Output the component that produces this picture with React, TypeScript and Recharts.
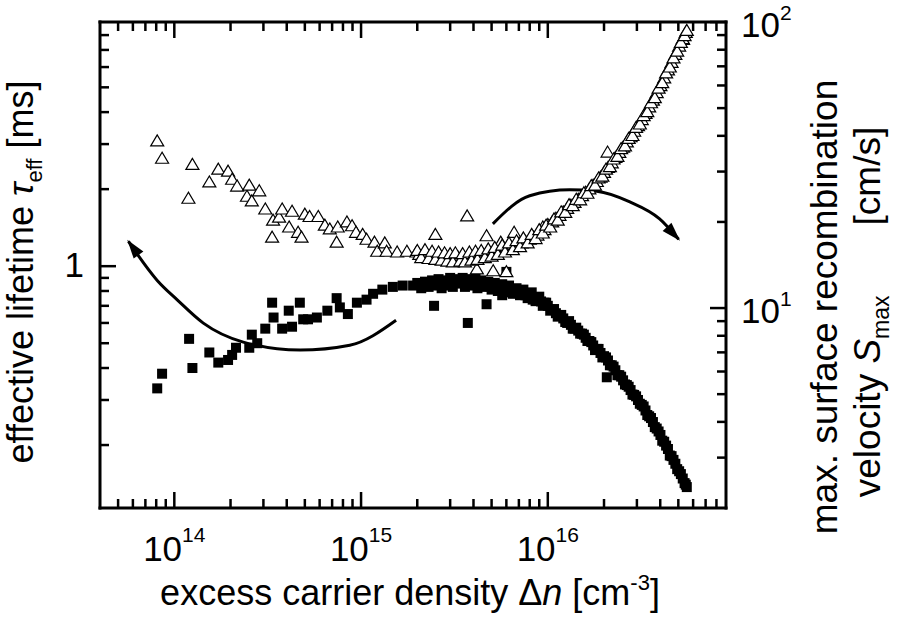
import React from 'react';
import { ComposedChart, Scatter, Line, XAxis, YAxis, Customized } from 'recharts';

const FONT = '"Liberation Sans", Arial, Helvetica, sans-serif';

// axis ticks (log decades with minor ticks)
const X_TICKS = [
  5e13, 6e13, 7e13, 8e13, 9e13,
  1e14, 2e14, 3e14, 4e14, 5e14, 6e14, 7e14, 8e14, 9e14,
  1e15, 2e15, 3e15, 4e15, 5e15, 6e15, 7e15, 8e15, 9e15,
  1e16, 2e16, 3e16, 4e16, 5e16, 6e16, 7e16, 8e16,
];
const X_EXP: Record<string, string> = { [String(1e14)]: '14', [String(1e15)]: '15', [String(1e16)]: '16' };
const TAU_TICKS = [0.2, 0.3, 0.4, 0.5, 0.6, 0.7, 0.8, 0.9, 1, 2, 3, 4, 5, 6, 7, 8];
const S_TICKS = [3, 4, 5, 6, 7, 8, 9, 10, 20, 30, 40, 50, 60, 70, 80, 90, 100];
const S_EXP: Record<string, string> = { '10': '1', '100': '2' };

// effective lifetime [ms] vs excess carrier density [cm^-3] (filled squares)
const tauSparse: [number, number][] = [
  [8.1e13, 0.333], [8.6e13, 0.38], [1.2e14, 0.52], [1.25e14, 0.40], [1.54e14, 0.46],
  [1.72e14, 0.42], [1.94e14, 0.43], [2.04e14, 0.45], [2.14e14, 0.48], [2.52e14, 0.48],
  [2.6e14, 0.54], [2.78e14, 0.50], [3.07e14, 0.57], [3.34e14, 0.72], [3.4e14, 0.63],
  [3.78e14, 0.57], [4.1e14, 0.67], [4.27e14, 0.58], [4.7e14, 0.72], [4.9e14, 0.62],
  [5.2e14, 0.62], [5.8e14, 0.63], [6.6e14, 0.67], [7.4e14, 0.75], [7.7e14, 0.69],
  [8.5e14, 0.65], [9.5e14, 0.72], [1.07e15, 0.74], [1.16e15, 0.78], [1.3e15, 0.81],
  [1.48e15, 0.83], [1.67e15, 0.84], [1.9e15, 0.84],
  [2.46e15, 0.70], [3.73e15, 0.60], [4.7e15, 0.71], [6.0e15, 0.95], [5.7e15, 0.77],
  [8.3e15, 0.74], [2.07e16, 0.368],
];
const tauBand: [number, number][] = [
  [2.0e15, 0.86], [2.1e15, 0.82], [2.2e15, 0.87], [2.3e15, 0.83], [2.4e15, 0.88],
  [2.5e15, 0.84], [2.6e15, 0.89], [2.7e15, 0.82], [2.8e15, 0.88], [2.9e15, 0.84],
  [3.0e15, 0.90], [3.1e15, 0.83], [3.2e15, 0.89], [3.4e15, 0.86], [3.5e15, 0.90],
  [3.6e15, 0.83], [3.8e15, 0.89], [3.9e15, 0.84], [4.1e15, 0.90], [4.2e15, 0.82],
  [4.4e15, 0.88], [4.6e15, 0.83], [4.8e15, 0.87], [5.0e15, 0.81], [5.2e15, 0.86],
  [5.4e15, 0.80], [5.7e15, 0.85], [5.9e15, 0.79], [6.2e15, 0.84], [6.5e15, 0.78],
  [6.8e15, 0.82], [7.1e15, 0.77], [7.4e15, 0.81], [7.8e15, 0.75], [8.2e15, 0.79],
  [8.6e15, 0.73], [9.0e15, 0.76], [9.4e15, 0.70], [9.8e15, 0.72], [1.03e16, 0.67],
  [1.08e16, 0.68], [1.13e16, 0.635], [1.18e16, 0.645], [1.24e16, 0.605], [1.30e16, 0.61],
  [1.36e16, 0.57], [1.42e16, 0.575], [1.49e16, 0.545], [1.56e16, 0.54], [1.63e16, 0.51],
  [1.71e16, 0.505], [1.79e16, 0.47], [1.87e16, 0.475], [1.96e16, 0.44], [2.05e16, 0.44],
  [2.15e16, 0.41], [2.25e16, 0.405], [2.36e16, 0.375], [2.47e16, 0.37], [2.59e16, 0.345],
  [2.71e16, 0.338], [2.84e16, 0.315], [2.97e16, 0.31], [3.11e16, 0.29], [3.26e16, 0.283],
  [3.41e16, 0.262], [3.57e16, 0.255], [3.74e16, 0.235], [3.92e16, 0.226], [4.10e16, 0.208],
  [4.30e16, 0.199], [4.50e16, 0.182], [4.71e16, 0.175], [4.93e16, 0.161], [5.16e16, 0.154],
  [5.40e16, 0.142], [5.55e16, 0.137],
];
const tauBandFill: [number, number][] = [
  [2.05e15, 0.845], [2.15e15, 0.85], [2.25e15, 0.84], [2.35e15, 0.86], [2.45e15, 0.85],
  [2.55e15, 0.86], [2.65e15, 0.85], [2.75e15, 0.86], [2.85e15, 0.855], [2.95e15, 0.865],
  [3.05e15, 0.86], [3.15e15, 0.87], [3.3e15, 0.855], [3.45e15, 0.87], [3.55e15, 0.86],
  [3.7e15, 0.87], [3.85e15, 0.855], [4.0e15, 0.865], [4.15e15, 0.85], [4.3e15, 0.86],
  [4.5e15, 0.845], [4.7e15, 0.85], [4.9e15, 0.835], [5.1e15, 0.84], [5.3e15, 0.825],
  [5.55e15, 0.83], [5.8e15, 0.815], [6.05e15, 0.815], [6.35e15, 0.80], [6.65e15, 0.80],
  [6.95e15, 0.785], [7.25e15, 0.785], [7.6e15, 0.77], [8.0e15, 0.765], [8.4e15, 0.75],
  [8.8e15, 0.745], [9.2e15, 0.728], [9.6e15, 0.72],
  [1.00e16, 0.70], [1.055e16, 0.675], [1.105e16, 0.655], [1.155e16, 0.64], [1.21e16, 0.625],
  [1.27e16, 0.60], [1.33e16, 0.59], [1.39e16, 0.57], [1.455e16, 0.56], [1.525e16, 0.545],
  [1.595e16, 0.525], [1.67e16, 0.51], [1.75e16, 0.49], [1.83e16, 0.475], [1.915e16, 0.458],
  [2.0e16, 0.445], [2.1e16, 0.428], [2.2e16, 0.41], [2.3e16, 0.392], [2.415e16, 0.375],
  [2.53e16, 0.358], [2.65e16, 0.343], [2.775e16, 0.328], [2.9e16, 0.314], [3.04e16, 0.30],
  [3.185e16, 0.287], [3.335e16, 0.273], [3.49e16, 0.259], [3.655e16, 0.246], [3.83e16, 0.232],
  [4.01e16, 0.219], [4.2e16, 0.206], [4.4e16, 0.193], [4.6e16, 0.181], [4.82e16, 0.169],
  [5.05e16, 0.158], [5.28e16, 0.148], [5.48e16, 0.14],
];

// max. surface recombination velocity [cm/s] (open triangles)
const sSparse: [number, number][] = [
  [8.1e13, 38.4], [8.6e13, 33.4], [1.19e14, 24.2], [1.25e14, 31.8], [1.54e14, 27.6],
  [1.72e14, 30.6], [1.94e14, 30.1], [2.04e14, 28.2], [2.17e14, 26.7], [2.45e14, 24.6],
  [2.52e14, 26.9], [2.6e14, 23.7], [2.85e14, 25.7], [3.07e14, 22.2], [3.34e14, 17.7],
  [3.38e14, 20.3], [3.64e14, 20.8], [3.78e14, 22.2], [4.12e14, 19.2], [4.27e14, 21.8],
  [4.6e14, 18.4], [4.8e14, 17.7], [5.0e14, 21.3], [5.3e14, 20.9], [5.9e14, 20.9],
  [6.4e14, 19.5], [6.8e14, 18.9], [7.4e14, 17.0], [7.5e14, 19.2], [8.4e14, 20.0],
  [8.95e14, 19.4], [9.4e14, 18.4], [1.02e15, 18.1], [1.07e15, 17.4], [1.18e15, 17.0],
  [1.22e15, 15.8], [1.34e15, 16.9], [1.37e15, 15.8], [1.56e15, 15.7], [1.76e15, 15.8],
  [1.98e15, 15.7],
  [2.5e15, 18.1], [3.7e15, 21.0], [4.7e15, 17.9], [5.6e15, 17.0], [6.6e15, 18.4],
  [4.17e15, 13.7], [5.1e15, 13.5], [6.0e15, 13.4], [9.4e15, 19.2], [2.09e16, 35.1],
  [5.3e16, 87],
];
const sBand: [number, number][] = [
  [2.0e15, 15.9], [2.1e15, 15.0], [2.2e15, 16.0], [2.3e15, 14.9], [2.4e15, 15.8],
  [2.5e15, 14.8], [2.6e15, 15.7], [2.7e15, 14.7], [2.8e15, 15.6], [2.9e15, 14.6],
  [3.0e15, 15.5], [3.1e15, 14.5], [3.2e15, 15.6], [3.4e15, 14.6], [3.5e15, 15.5],
  [3.6e15, 14.5], [3.8e15, 15.7], [3.9e15, 14.7], [4.1e15, 15.8], [4.2e15, 14.8],
  [4.4e15, 15.9], [4.6e15, 15.0], [4.8e15, 16.1], [5.0e15, 15.2], [5.2e15, 16.3],
  [5.4e15, 15.4], [5.7e15, 16.6], [5.9e15, 15.7], [6.2e15, 16.9], [6.5e15, 16.0],
  [6.8e15, 17.2], [7.1e15, 16.4], [7.4e15, 17.6], [7.8e15, 16.9], [8.2e15, 18.1],
  [8.6e15, 17.5], [9.0e15, 18.8], [9.4e15, 18.3], [9.8e15, 19.5], [1.03e16, 19.2],
  [1.08e16, 20.5], [1.13e16, 20.3], [1.18e16, 21.7], [1.24e16, 21.6], [1.30e16, 23.0],
  [1.36e16, 22.8], [1.42e16, 24.0], [1.49e16, 23.9], [1.56e16, 25.3], [1.63e16, 25.2],
  [1.71e16, 26.8], [1.79e16, 26.9], [1.87e16, 28.5], [1.96e16, 28.9], [2.05e16, 30.6],
  [2.15e16, 31.2], [2.25e16, 33.2], [2.36e16, 33.9], [2.47e16, 36.1], [2.59e16, 36.9],
  [2.71e16, 39.2], [2.84e16, 40.1], [2.97e16, 42.8], [3.11e16, 44.0], [3.26e16, 47.1],
  [3.41e16, 48.6], [3.57e16, 52.2], [3.74e16, 54.4], [3.92e16, 58.7], [4.10e16, 61.4],
  [4.30e16, 66.4], [4.50e16, 69.6], [4.71e16, 74.9], [4.93e16, 79.1], [5.16e16, 84.9],
  [5.40e16, 89.6], [5.55e16, 93.5],
];
const sBandFill: [number, number][] = [
  [2.05e15, 15.4], [2.15e15, 15.3], [2.25e15, 15.4], [2.35e15, 15.2], [2.45e15, 15.3],
  [2.55e15, 15.1], [2.65e15, 15.3], [2.75e15, 15.0], [2.85e15, 15.2], [2.95e15, 15.0],
  [3.05e15, 15.1], [3.15e15, 14.9], [3.3e15, 15.1], [3.45e15, 14.9], [3.55e15, 15.1],
  [3.7e15, 15.0], [3.85e15, 15.2], [4.0e15, 15.1], [4.15e15, 15.3], [4.3e15, 15.2],
  [4.5e15, 15.4], [4.7e15, 15.4], [4.9e15, 15.6], [5.1e15, 15.6], [5.3e15, 15.8],
  [5.55e15, 15.9], [5.8e15, 16.1], [6.05e15, 16.2], [6.35e15, 16.4], [6.65e15, 16.5],
  [6.95e15, 16.7], [7.25e15, 16.9], [7.6e15, 17.1], [8.0e15, 17.4], [8.4e15, 17.7],
  [8.8e15, 18.0], [9.2e15, 18.4], [9.6e15, 18.8],
  [1.00e16, 19.6], [1.055e16, 20.0], [1.105e16, 20.6], [1.155e16, 21.1], [1.21e16, 21.7],
  [1.27e16, 22.3], [1.33e16, 22.9], [1.39e16, 23.4], [1.455e16, 24.0], [1.525e16, 24.7],
  [1.595e16, 25.4], [1.67e16, 26.1], [1.75e16, 26.9], [1.83e16, 27.7], [1.915e16, 28.7],
  [2.0e16, 29.8], [2.1e16, 31.0], [2.2e16, 32.2], [2.3e16, 33.6], [2.415e16, 35.0],
  [2.53e16, 36.5], [2.65e16, 38.1], [2.775e16, 39.7], [2.9e16, 41.5], [3.04e16, 43.4],
  [3.185e16, 45.6], [3.335e16, 47.9], [3.49e16, 50.5], [3.655e16, 53.3], [3.83e16, 56.6],
  [4.01e16, 59.9], [4.2e16, 63.8], [4.4e16, 68.0], [4.6e16, 72.2], [4.82e16, 77.0],
  [5.05e16, 82.4], [5.28e16, 87.5], [5.48e16, 92.0],
];

// curved arrows (annotation paths in data space)
const arrowLeft: [number, number][] = [
  [5.68e13, 1.25], [8.1e13, 0.88], [1.04e14, 0.737], [1.43e14, 0.599], [2.34e14, 0.505],
  [4.72e14, 0.47], [8.7e14, 0.491], [1.54e15, 0.615],
];
const arrowRight: [number, number][] = [
  [5.08e15, 19.7], [8.0e15, 24.7], [1.31e16, 25.9], [1.83e16, 25.6], [2.75e16, 23.5],
  [3.97e16, 20.5], [5.02e16, 17.4],
];

const tauData = [...tauSparse, ...tauBand, ...tauBandFill].map(([n, tau]) => ({ n, tau }));
const sData = [...sSparse, ...sBandFill, ...sBand].map(([n, s]) => ({ n, s }));
const arrowLeftData = arrowLeft.map(([n, tau]) => ({ n, tau }));
const arrowRightData = arrowRight.map(([n, s]) => ({ n, s }));

const BottomTick = (props: any) => {
  const { x, y, payload } = props;
  const exp = X_EXP[String(payload.value)];
  const len = exp ? 16 : 9;
  return (
    <g>
      <line x1={x} y1={y} x2={x} y2={y - len} stroke="#000" strokeWidth={2.5} />
      {exp && (
        <text x={x} y={y + 53} textAnchor="middle" fontSize={35} fontFamily={FONT} fill="#000">
          10<tspan dy={-19} fontSize={21}>{exp}</tspan>
        </text>
      )}
    </g>
  );
};

const TopTick = (props: any) => {
  const { x, y, payload } = props;
  const len = X_EXP[String(payload.value)] ? 16 : 9;
  return <line x1={x} y1={y} x2={x} y2={y + len} stroke="#000" strokeWidth={2.5} />;
};

const LeftTick = (props: any) => {
  const { x, y, payload } = props;
  const major = payload.value === 1;
  const len = major ? 16 : 9;
  return (
    <g>
      <line x1={x} y1={y} x2={x + len} y2={y} stroke="#000" strokeWidth={2.5} />
      {major && (
        <text x={x - 16} y={y + 11} textAnchor="end" fontSize={35} fontFamily={FONT} fill="#000">
          1
        </text>
      )}
    </g>
  );
};

const RightTick = (props: any) => {
  const { x, y, payload } = props;
  const exp = S_EXP[String(payload.value)];
  const len = exp ? 16 : 9;
  return (
    <g>
      <line x1={x} y1={y} x2={x - len} y2={y} stroke="#000" strokeWidth={2.5} />
      {exp && (
        <text x={x + 15} y={y + 15} textAnchor="start" fontSize={35} fontFamily={FONT} fill="#000">
          10<tspan dy={-17} fontSize={21}>{exp}</tspan>
        </text>
      )}
    </g>
  );
};

const Square = (props: any) => {
  const { cx, cy } = props;
  if (cx == null || cy == null) return null;
  return <rect x={cx - 5} y={cy - 5} width={10} height={10} fill="#000" />;
};

const Triangle = (props: any) => {
  const { cx, cy } = props;
  if (cx == null || cy == null) return null;
  return (
    <polygon
      points={`${cx},${cy - 6} ${cx - 6.5},${cy + 5} ${cx + 6.5},${cy + 5}`}
      fill="#fff"
      stroke="#000"
      strokeWidth={1.2}
    />
  );
};

const arrowHead = (atStart: boolean) => (props: any) => {
  const { cx, cy, index, points } = props;
  const last = points ? points.length - 1 : -1;
  const head = atStart ? 0 : last;
  if (index !== head || cx == null || !points) return <g key={`ah-${index}`} />;
  const prev = points[atStart ? 1 : last - 1];
  const ang = Math.atan2(cy - prev.y, cx - prev.x);
  const L = 17;
  const W = 6;
  const bx = cx - L * Math.cos(ang);
  const by = cy - L * Math.sin(ang);
  const px = -Math.sin(ang) * W;
  const py = Math.cos(ang) * W;
  return (
    <polygon
      key={`ah-${index}`}
      points={`${cx + 2 * Math.cos(ang)},${cy + 2 * Math.sin(ang)} ${bx + px},${by + py} ${bx - px},${by - py}`}
      fill="#000"
    />
  );
};

const Titles = () => (
  <g fontFamily={FONT} fill="#000">
    <text x={410} y={605} textAnchor="middle" fontSize={36}>
      excess carrier density Δ<tspan fontStyle="italic">n</tspan> [cm
      <tspan dy={-15} fontSize={22}>-3</tspan>
      <tspan dy={15}>]</tspan>
    </text>
    <text transform="translate(33,272) rotate(-90)" textAnchor="middle" fontSize={36}>
      effective lifetime <tspan fontStyle="italic">τ</tspan>
      <tspan dy={9} fontSize={22}>eff</tspan>
      <tspan dy={-9}> [ms]</tspan>
    </text>
    <text transform="translate(837,307) rotate(-90)" textAnchor="middle" fontSize={37}>
      max. surface recombination
    </text>
    <text transform="translate(880,312) rotate(-90)" textAnchor="middle" fontSize={37}>
      velocity <tspan fontStyle="italic">S</tspan>
      <tspan dy={9} fontSize={23}>max</tspan>
      <tspan dy={-9} dx={70}>[cm/s]</tspan>
    </text>
  </g>
);

const axisLineStyle = { stroke: '#000', strokeWidth: 3, strokeLinecap: 'square' as const };

export default function App() {
  return (
    <div style={{ position: 'absolute', left: 0, top: 0, background: '#fff' }}>
      <ComposedChart width={898} height={625} margin={{ top: 21, right: 171, bottom: 116, left: 99 }}>
        <XAxis
          xAxisId="bottom"
          dataKey="n"
          type="number"
          scale="log"
          domain={[4e13, 9e16]}
          allowDataOverflow
          ticks={X_TICKS}
          interval={0}
          height={1}
          tickSize={0}
          tickMargin={0}
          tickLine={false}
          axisLine={axisLineStyle}
          tick={<BottomTick />}
        />
        <XAxis
          xAxisId="top"
          orientation="top"
          dataKey="n"
          type="number"
          scale="log"
          domain={[4e13, 9e16]}
          allowDataOverflow
          ticks={X_TICKS}
          interval={0}
          height={1}
          tickSize={0}
          tickMargin={0}
          tickLine={false}
          axisLine={axisLineStyle}
          tick={<TopTick />}
        />
        <YAxis
          yAxisId="left"
          dataKey="tau"
          type="number"
          scale="log"
          domain={[0.1135, 9]}
          allowDataOverflow
          ticks={TAU_TICKS}
          interval={0}
          width={1}
          tickSize={0}
          tickMargin={0}
          tickLine={false}
          axisLine={axisLineStyle}
          tick={<LeftTick />}
        />
        <YAxis
          yAxisId="right"
          orientation="right"
          dataKey="s"
          type="number"
          scale="log"
          domain={[2, 100]}
          allowDataOverflow
          ticks={S_TICKS}
          interval={0}
          width={1}
          tickSize={0}
          tickMargin={0}
          tickLine={false}
          axisLine={axisLineStyle}
          tick={<RightTick />}
        />
        <Scatter
          data={tauData}
          xAxisId="bottom"
          yAxisId="left"
          dataKey="tau"
          shape={<Square />}
          isAnimationActive={false}
        />
        <Scatter
          data={sData}
          xAxisId="bottom"
          yAxisId="right"
          dataKey="s"
          shape={<Triangle />}
          isAnimationActive={false}
        />
        <Line
          data={arrowLeftData}
          xAxisId="bottom"
          yAxisId="left"
          dataKey="tau"
          type="monotone"
          stroke="#000"
          strokeWidth={3}
          dot={arrowHead(true)}
          activeDot={false}
          isAnimationActive={false}
        />
        <Line
          data={arrowRightData}
          xAxisId="bottom"
          yAxisId="right"
          dataKey="s"
          type="monotone"
          stroke="#000"
          strokeWidth={3}
          dot={arrowHead(false)}
          activeDot={false}
          isAnimationActive={false}
        />
        <Customized component={Titles} />
      </ComposedChart>
    </div>
  );
}
